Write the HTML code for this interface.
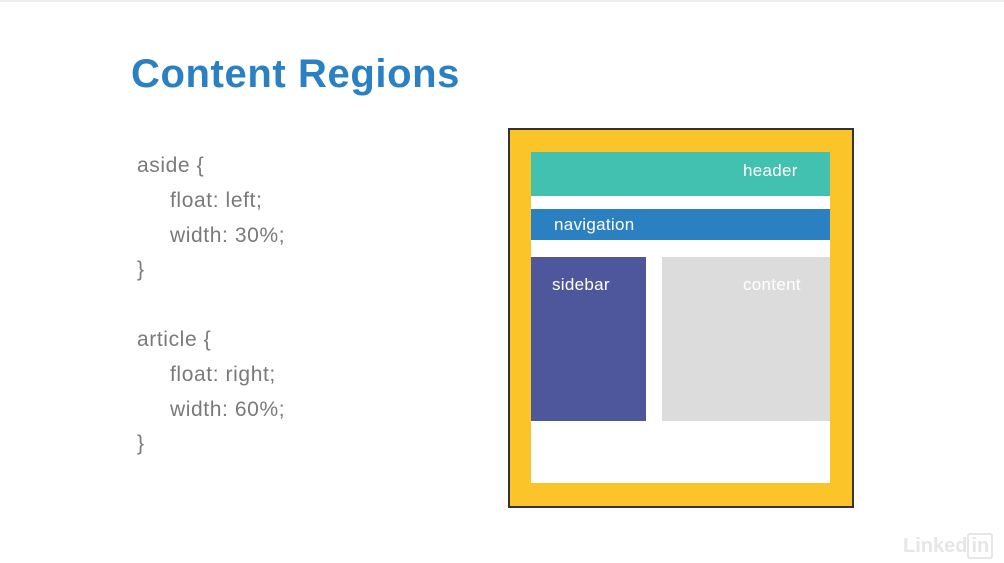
<!DOCTYPE html>
<html><head><style>
body{margin:0;width:1004px;height:563px;background:#fff;position:relative;overflow:hidden;font-family:"Liberation Sans",sans-serif}
.a{position:absolute}
.t{left:131px;top:52px;font-size:40px;font-weight:bold;color:#2a80c2;letter-spacing:0.6px}
.c{font-size:21px;color:#7a7a7a;line-height:24px;letter-spacing:0.6px}
.l{color:#fff;font-size:17px;letter-spacing:0.3px}
</style></head><body>
<div style="position:absolute;left:0;top:0;width:1004px;height:2px;background:#eee"></div>
<div class="a t">Content Regions</div>
<div class="a c" style="left:137px;top:154px">aside {</div>
<div class="a c" style="left:170px;top:189px">float: left;</div>
<div class="a c" style="left:170px;top:224px">width: 30%;</div>
<div class="a c" style="left:137px;top:258px">}</div>
<div class="a c" style="left:137px;top:328px">article {</div>
<div class="a c" style="left:170px;top:363px">float: right;</div>
<div class="a c" style="left:170px;top:398px">width: 60%;</div>
<div class="a c" style="left:137px;top:432px">}</div>
<div class="a" style="left:508px;top:128px;width:342px;height:376px;background:#fbc52a;border:2px solid #333"></div>
<div class="a" style="left:531px;top:152px;width:299px;height:331px;background:#fff"></div>
<div class="a" style="left:531px;top:152px;width:299px;height:44px;background:#42c0b0"></div>
<div class="a l" style="left:743px;top:161px">header</div>
<div class="a" style="left:531px;top:209px;width:299px;height:31px;background:#2b80c2"></div>
<div class="a l" style="left:554px;top:215px">navigation</div>
<div class="a" style="left:531px;top:257px;width:115px;height:164px;background:#4e579c"></div>
<div class="a l" style="left:552px;top:275px">sidebar</div>
<div class="a" style="left:662px;top:257px;width:168px;height:164px;background:#dcdcdc"></div>
<div class="a l" style="left:743px;top:275px">content</div>
<div class="a" style="left:903px;top:535px;font-size:20px;font-weight:bold;color:#e6e6e6">Linked<span style="border:2px solid #e6e6e6;border-radius:3px;padding:0 2px">in</span></div>
</body></html>
